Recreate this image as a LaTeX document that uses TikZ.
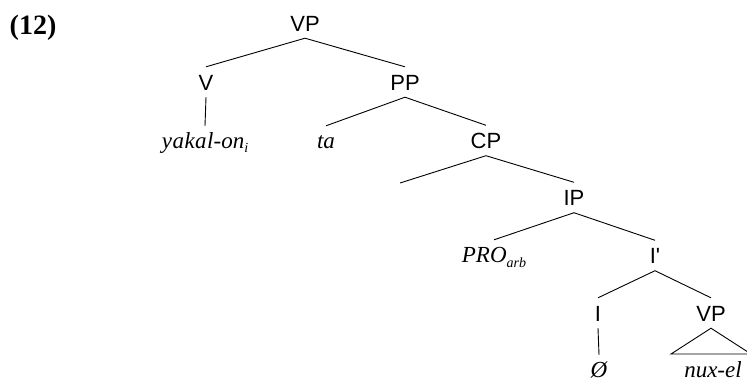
\documentclass[tikz,border=0pt]{standalone}
\usepackage{fontspec}
\setmainfont{Liberation Serif}
\setsansfont{Liberation Sans}
\begin{document}
\begin{tikzpicture}[x=1pt,y=-1pt,
  cat/.style={font=\sffamily\fontsize{22}{22}\selectfont, text height=16pt, text depth=0pt, inner xsep=0pt, inner ysep=7pt},
  leaf/.style={font=\itshape\fontsize{23}{23}\selectfont, text height=14pt, text depth=2pt, inner xsep=0pt, inner ysep=8pt, anchor=base},
  edge/.style={line width=0.9pt, black}]
\useasboundingbox (0,0) rectangle (747,381);
\node[font=\bfseries\fontsize{28}{28}\selectfont, anchor=base] (ex) at (33,34) {(12)};
% categories
\node[cat] (VP) at (305,23) {VP};
\node[cat] (V) at (206,82) {V};
\node[cat] (PP) at (405,82) {PP};
\node[cat] (CP) at (486,140.5) {CP};
\coordinate (C) at (400,183);
\node[cat] (IP) at (574,197.5) {IP};
\node[cat] (Ibar) at (655,255.5) {I\textquotesingle};
\node[cat] (I) at (598,313) {I};
\node[cat] (VPl) at (711,313) {VP};
% leaves
\node[leaf] (yak) at (205,148) {y\kern0.5pt a\kern0.5pt k\kern0.5pt a\kern0.5pt l-on\raisebox{-4pt}{\fontsize{14}{14}\selectfont i}};
\node[leaf] (ta) at (326,148) {ta};
\node[leaf] (PRO) at (494,262) {PRO\raisebox{-5pt}{\fontsize{14}{14}\selectfont arb}};
\node[leaf] (null) at (599,377) {Ø};
\node[leaf] (nux) at (713,377) {nux-el};
\coordinate (tl) at (671,354);
\coordinate (tr) at (751,354);
% edges
\draw[edge] (VP.south) -- (V.north);
\draw[edge] (VP.south) -- (PP.north);
\draw[edge] (V.south) -- (yak.north);
\draw[edge] (PP.south) -- (ta.north);
\draw[edge] (PP.south) -- (CP.north);
\draw[edge] (CP.south) -- (C);
\draw[edge] (CP.south) -- (IP.north);
\draw[edge] (IP.south) -- (PRO.north);
\draw[edge] (IP.south) -- (Ibar.north);
\draw[edge] (Ibar.south) -- (I.north);
\draw[edge] (Ibar.south) -- (VPl.north);
\draw[edge] (I.south) -- (null.north);
\draw[edge] (VPl.south) -- (tl) -- (tr) -- cycle;
\end{tikzpicture}
\end{document}
